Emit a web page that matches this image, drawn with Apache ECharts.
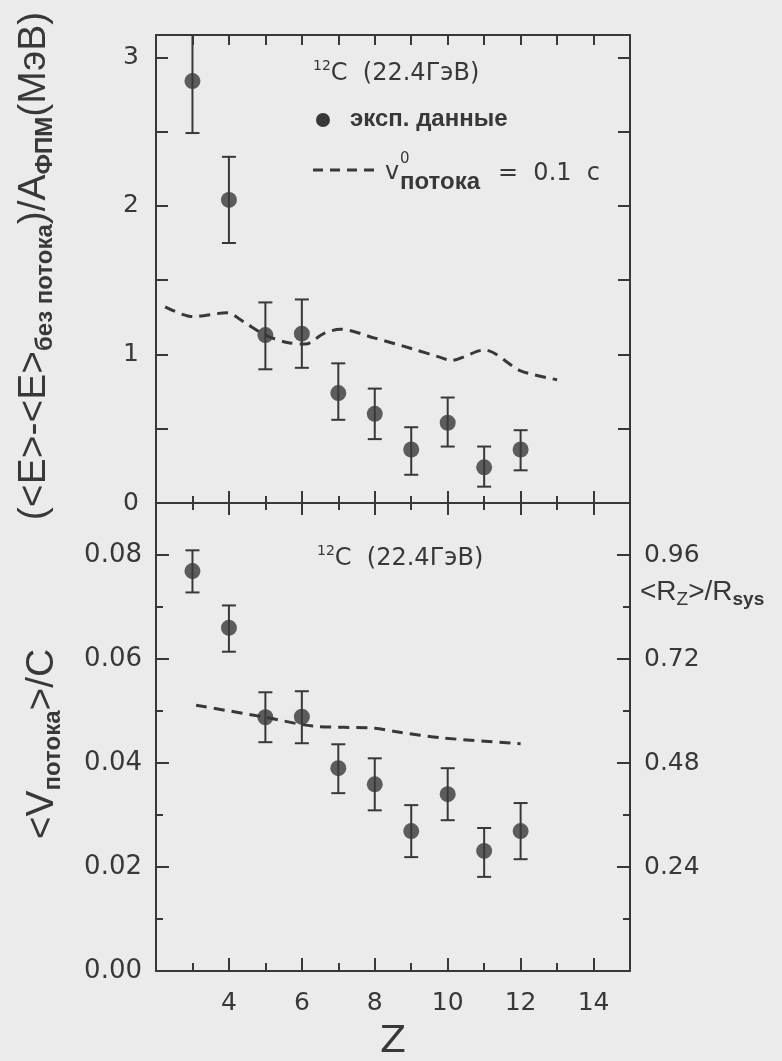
<!DOCTYPE html>
<html>
<head>
<meta charset="utf-8">
<script src="https://cdn.jsdelivr.net/npm/echarts@6/dist/echarts.min.js"></script>
<style>html,body{margin:0;padding:0;background:#ebebeb;}#chart{width:782px;height:1061px;}</style>
</head>
<body>
<div id="chart"></div>
<script>
// ---- data ----
const zValues = [3, 4, 5, 6, 7, 8, 9, 10, 11, 12];
// top panel: (<E>-<E>без потока)/A ФПМ (МэВ)
const energyMean = [2.84, 2.04, 1.13, 1.14, 0.74, 0.60, 0.36, 0.54, 0.24, 0.36];
const energyLow  = [2.49, 1.75, 0.90, 0.91, 0.56, 0.43, 0.19, 0.38, 0.11, 0.22];
const energyHigh = [3.19, 2.33, 1.35, 1.37, 0.94, 0.77, 0.51, 0.71, 0.38, 0.49];
const energyDashZ   = [2.25, 3.0, 3.95, 4.4, 5.0, 5.6, 6.1, 6.6, 7.05, 8.0, 9.0, 9.8, 10.1, 11.0, 12.0, 13.0];
const energyDashVal = [1.32, 1.255, 1.28, 1.22, 1.13, 1.08, 1.07, 1.14, 1.17, 1.11, 1.04, 0.98, 0.96, 1.03, 0.89, 0.83];
// bottom panel: <V потока>/C
const flowMean = [0.0769, 0.0660, 0.0488, 0.0489, 0.0390, 0.0359, 0.0269, 0.0340, 0.0231, 0.0269];
const flowLow  = [0.0728, 0.0614, 0.0440, 0.0438, 0.0342, 0.0309, 0.0219, 0.0290, 0.0181, 0.0215];
const flowHigh = [0.0809, 0.0703, 0.0536, 0.0538, 0.0436, 0.0409, 0.0319, 0.0390, 0.0275, 0.0323];
const flowDashZ   = [3.1, 5.0, 6.3, 8.0, 8.6, 9.9, 12.0];
const flowDashVal = [0.0511, 0.0488, 0.0471, 0.0467, 0.0460, 0.0448, 0.0437];
// axis tick labels
const xTickLabels = [4, 6, 8, 10, 12, 14];
const topYLabels = [0, 1, 2, 3];
const bottomYLabels = ['0.00', '0.02', '0.04', '0.06', '0.08'];
const rightYLabels = ['0.24', '0.48', '0.72', '0.96'];

const INK = '#383838';
const NUMFONT = 'DejaVu Sans';
const TXTFONT = 'Liberation Sans';

const chart = echarts.init(document.getElementById('chart'), null, {renderer: 'canvas'});

function lineAxis(extra) {
  return Object.assign({
    type: 'value', min: 2, max: 15,
    axisLine: {show: true, onZero: false, lineStyle: {color: INK, width: 2}},
    axisTick: {show: true, inside: true, length: 7, lineStyle: {color: INK, width: 2}},
    axisLabel: {show: false},
    splitLine: {show: false}
  }, extra);
}
function tickOnly(ax) { ax.axisLine = {show: false, onZero: false}; return ax; }

const xAxes = [
  lineAxis({gridIndex: 0, position: 'bottom', interval: 1}),
  tickOnly(lineAxis({gridIndex: 0, position: 'bottom', interval: 2, axisTick: {inside: true, length: 12, lineStyle: {color: INK, width: 2}}})),
  lineAxis({gridIndex: 0, position: 'top', interval: 1, axisTick: {inside: true, length: 10, lineStyle: {color: INK, width: 2}}}),
  lineAxis({gridIndex: 1, position: 'top', interval: 1}),
  tickOnly(lineAxis({gridIndex: 1, position: 'top', interval: 2, axisTick: {inside: true, length: 12, lineStyle: {color: INK, width: 2}}})),
  lineAxis({gridIndex: 1, position: 'bottom', interval: 1, axisTick: {inside: true, length: 8, lineStyle: {color: INK, width: 2}}}),
  tickOnly(lineAxis({gridIndex: 1, position: 'bottom', interval: 2,
    axisTick: {inside: true, length: 13, lineStyle: {color: INK, width: 2}},
    axisLabel: {show: true, margin: 20, color: INK, fontFamily: NUMFONT, fontSize: 25,
      formatter: v => xTickLabels.indexOf(Math.round(v)) >= 0 && Math.abs(v - Math.round(v)) < 1e-6 ? String(Math.round(v)) : ''},
    name: 'Z', nameLocation: 'middle', nameGap: 52,
    nameTextStyle: {color: INK, fontFamily: NUMFONT, fontSize: 38}}))
];

function yAx(extra) {
  return Object.assign({
    type: 'value',
    axisLine: {show: true, onZero: false, lineStyle: {color: INK, width: 2}},
    axisTick: {show: true, inside: true, length: 12, lineStyle: {color: INK, width: 2}},
    axisLabel: {show: false},
    splitLine: {show: false}
  }, extra);
}

const yAxes = [
  yAx({gridIndex: 0, position: 'left', min: 0, max: 3.15, interval: 0.5,
    axisLabel: {show: true, inside: false, margin: 17, color: INK, fontFamily: NUMFONT, fontSize: 25,
      formatter: v => topYLabels.indexOf(v) >= 0 ? String(v) : ''}}),
  yAx({gridIndex: 0, position: 'right', min: 0, max: 3.15, interval: 0.5}),
  yAx({gridIndex: 1, position: 'left', min: 0, max: 0.09, interval: 0.01, offset: 0,
    axisTick: {inside: true, length: 7, lineStyle: {color: INK, width: 2}}}),
  yAx({gridIndex: 1, position: 'left', min: 0, max: 0.09, interval: 0.02, offset: 0,
    axisLine: {show: false, onZero: false},
    axisTick: {inside: true, length: 13, lineStyle: {color: INK, width: 2}},
    axisLabel: {show: true, margin: 14, color: INK, fontFamily: NUMFONT, fontSize: 26,
      formatter: v => { const s = v.toFixed(2); return bottomYLabels.indexOf(s) >= 0 && v < 0.085 ? s : ''; }}}),
  yAx({gridIndex: 1, position: 'right', min: 0, max: 1.08, interval: 0.12, offset: 0,
    axisTick: {inside: true, length: 7, lineStyle: {color: INK, width: 2}}}),
  yAx({gridIndex: 1, position: 'right', min: 0, max: 1.08, interval: 0.24, offset: 0,
    axisLine: {show: false, onZero: false},
    axisTick: {inside: true, length: 13, lineStyle: {color: INK, width: 2}},
    axisLabel: {show: true, margin: 14, color: INK, fontFamily: NUMFONT, fontSize: 25,
      formatter: v => { const s = v.toFixed(2); return rightYLabels.indexOf(s) >= 0 ? s : ''; }}})
];

function errorBarRender(params, api) {
  const x = api.value(0);
  const pLo = api.coord([x, api.value(1)]);
  const pHi = api.coord([x, api.value(2)]);
  const cs = params.coordSys;
  const top = cs.y, bottom = cs.y + cs.height;
  const yHi = Math.max(pHi[1], top);
  const yLo = Math.min(pLo[1], bottom);
  const hw = 7;
  const st = {stroke: INK, lineWidth: 2};
  const children = [{type: 'line', shape: {x1: pLo[0], y1: yLo, x2: pLo[0], y2: yHi}, style: st}];
  if (pHi[1] >= top) children.push({type: 'line', shape: {x1: pHi[0] - hw, y1: pHi[1], x2: pHi[0] + hw, y2: pHi[1]}, style: st});
  if (pLo[1] <= bottom) children.push({type: 'line', shape: {x1: pLo[0] - hw, y1: pLo[1], x2: pLo[0] + hw, y2: pLo[1]}, style: st});
  return {type: 'group', children};
}

const series = [
  {type: 'custom', xAxisIndex: 0, yAxisIndex: 0, renderItem: errorBarRender,
   data: zValues.map((z, i) => [z, energyLow[i], energyHigh[i]]), z: 3, silent: true},
  {type: 'scatter', xAxisIndex: 0, yAxisIndex: 0, symbol: 'circle', symbolSize: 16,
   itemStyle: {color: INK}, data: zValues.map((z, i) => [z, energyMean[i]]), z: 4},
  {type: 'line', xAxisIndex: 0, yAxisIndex: 0, showSymbol: false, smooth: 0.3,
   lineStyle: {color: INK, width: 3, type: [11, 7]},
   data: energyDashZ.map((z, i) => [z, energyDashVal[i]]), z: 2},
  {type: 'custom', xAxisIndex: 6, yAxisIndex: 3, renderItem: errorBarRender,
   data: zValues.map((z, i) => [z, flowLow[i], flowHigh[i]]), z: 3, silent: true},
  {type: 'scatter', xAxisIndex: 6, yAxisIndex: 3, symbol: 'circle', symbolSize: 16,
   itemStyle: {color: INK}, data: zValues.map((z, i) => [z, flowMean[i]]), z: 4},
  {type: 'line', xAxisIndex: 6, yAxisIndex: 3, showSymbol: false, smooth: 0.3,
   lineStyle: {color: INK, width: 3, type: [11, 7]},
   data: flowDashZ.map((z, i) => [z, flowDashVal[i]]), z: 2}
];

const numRich = {
  sup: {fontFamily: NUMFONT, fontSize: 14, lineHeight: 14, verticalAlign: 'top', fill: INK},
  m: {fontFamily: NUMFONT, fontSize: 24, lineHeight: 30, fill: INK}
};
const titleRich = {
  m: {fontFamily: TXTFONT, fontSize: 39, lineHeight: 47, fill: INK},
  s: {fontFamily: TXTFONT, fontWeight: 'bold', fontSize: 24, lineHeight: 24, verticalAlign: 'bottom', fill: INK}
};

const graphic = [
  // top-left axis title
  {type: 'text', x: 34, y: 266, rotation: Math.PI / 2,
   style: {text: '{m|(<E>-<E>}{s|без потока}{m|)/A}{s|ФПМ}{m|(МэВ)}', align: 'center', verticalAlign: 'middle', fill: INK,
     rich: titleRich}},
  // bottom-left axis title
  {type: 'text', x: 42, y: 744, rotation: Math.PI / 2,
   style: {text: '{m|<V}{s|потока}{m|>/C}', align: 'center', verticalAlign: 'middle', fill: INK,
     rich: titleRich}},
  // right axis title
  {type: 'text', x: 640, y: 592,
   style: {text: '{m|<R}{s|Z}{m|>/R}{b|sys}', align: 'left', verticalAlign: 'middle', fill: INK,
     rich: {
       m: {fontFamily: TXTFONT, fontSize: 28, lineHeight: 34, fill: INK},
       s: {fontFamily: TXTFONT, fontSize: 19, lineHeight: 19, verticalAlign: 'bottom', fill: INK},
       b: {fontFamily: TXTFONT, fontWeight: 'bold', fontSize: 19, lineHeight: 19, verticalAlign: 'bottom', fill: INK}
     }}},
  // top panel annotation + legend
  {type: 'text', x: 313, y: 74,
   style: {text: '{sup|12}{m|C  (22.4ГэВ)}', align: 'left', verticalAlign: 'middle', fill: INK, rich: numRich}},
  {type: 'circle', shape: {cx: 323, cy: 120, r: 7}, style: {fill: INK}},
  {type: 'text', x: 350, y: 119,
   style: {text: 'эксп. данные', font: 'bold 24px "Liberation Sans"', fill: INK, align: 'left', verticalAlign: 'middle'}},
  {type: 'line', shape: {x1: 313, y1: 170, x2: 378, y2: 170}, style: {stroke: INK, lineWidth: 3, lineDash: [10, 7]}},
  {type: 'text', x: 385, y: 173,
   style: {text: 'v', font: '24px "DejaVu Sans"', fill: INK, align: 'left', verticalAlign: 'middle'}},
  {type: 'text', x: 400, y: 159,
   style: {text: '0', font: '15px "DejaVu Sans"', fill: INK, align: 'left', verticalAlign: 'middle'}},
  {type: 'text', x: 400, y: 182,
   style: {text: 'потока', font: 'bold 24px "Liberation Sans"', fill: INK, align: 'left', verticalAlign: 'middle'}},
  {type: 'text', x: 498, y: 174,
   style: {text: '=  0.1  c', font: '24px "DejaVu Sans"', fill: INK, align: 'left', verticalAlign: 'middle'}},
  // bottom panel annotation
  {type: 'text', x: 317, y: 559,
   style: {text: '{sup|12}{m|C  (22.4ГэВ)}', align: 'left', verticalAlign: 'middle', fill: INK, rich: numRich}}
];

chart.setOption({
  backgroundColor: '#ebebeb',
  animation: false,
  grid: [
    {left: 156, width: 474, top: 35, height: 468, containLabel: false, outerBoundsMode: 'none'},
    {left: 156, width: 474, top: 503, height: 468, containLabel: false, outerBoundsMode: 'none'}
  ],
  xAxis: xAxes,
  yAxis: yAxes,
  series: series,
  graphic: graphic
});
</script>
</body>
</html>
